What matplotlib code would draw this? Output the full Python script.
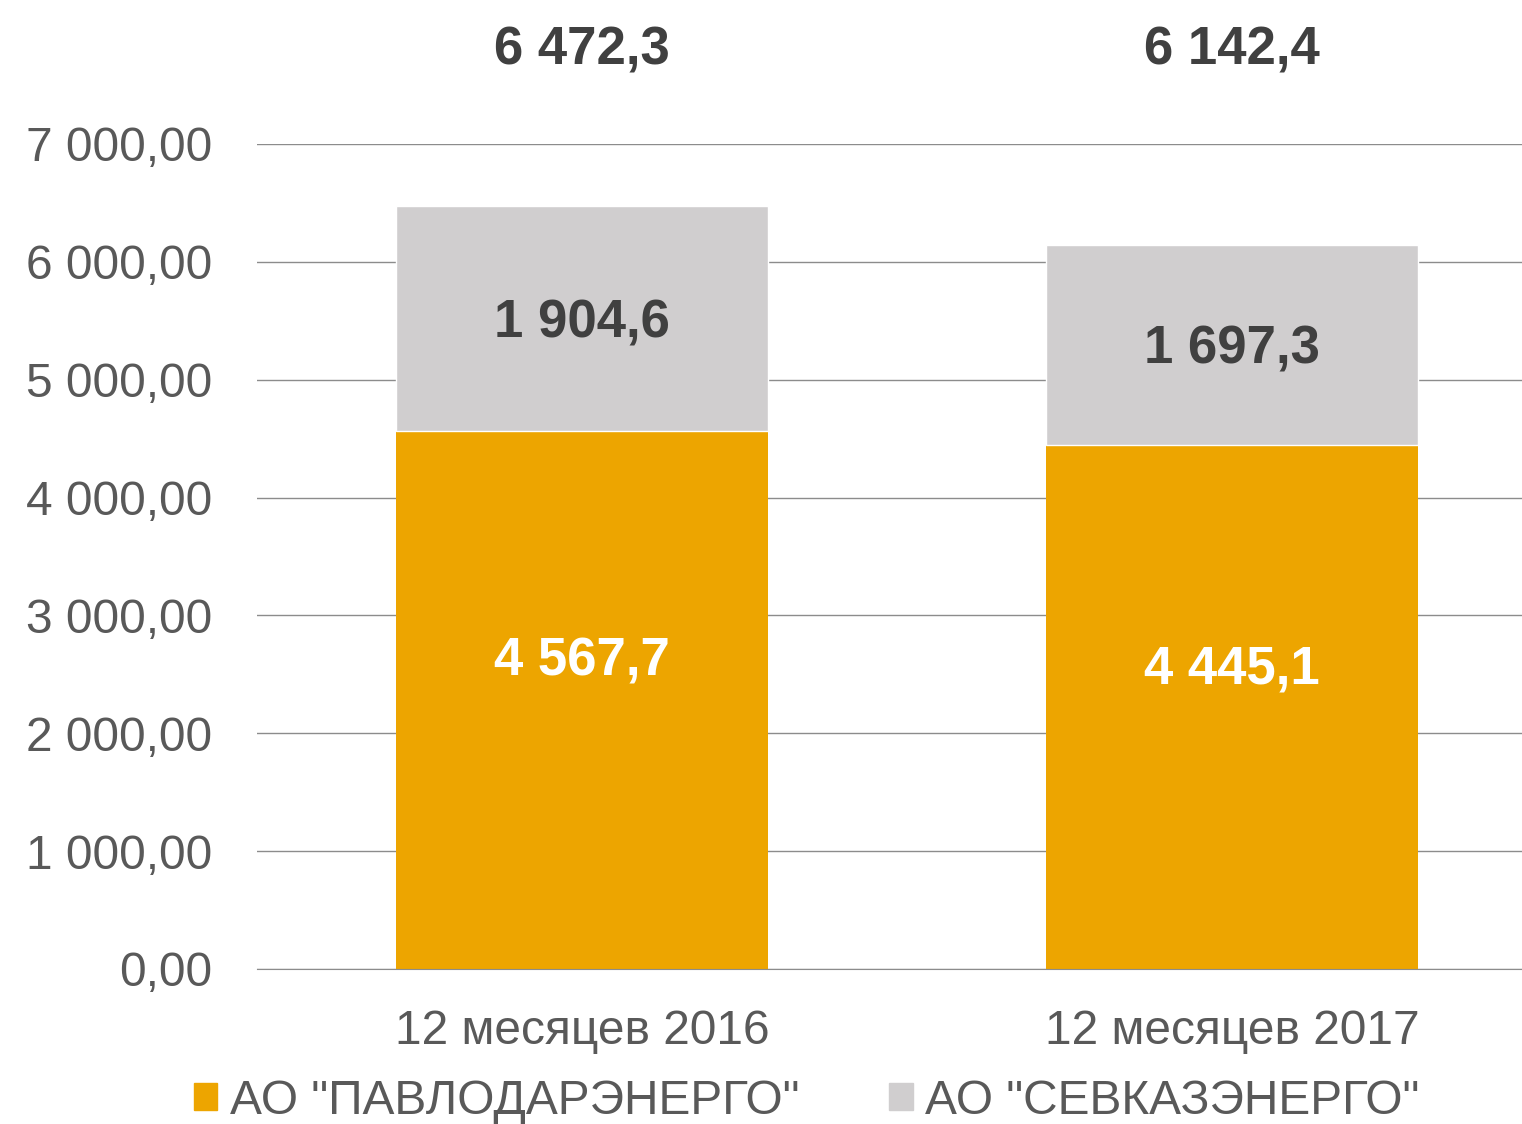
import matplotlib
matplotlib.use("Agg")
import matplotlib.pyplot as plt
from matplotlib.ticker import FuncFormatter
from matplotlib.patches import Patch

plt.rcParams['font.family'] = ['Liberation Sans', 'DejaVu Sans']

categories = ["12 месяцев 2016", "12 месяцев 2017"]
pavlodar = [4567.7, 4445.1]
sevkaz = [1904.6, 1697.3]
series_names = ['АО "ПАВЛОДАРЭНЕРГО"', 'АО "СЕВКАЗЭНЕРГО"']
yticks = [0, 1000, 2000, 3000, 4000, 5000, 6000, 7000]

orange = '#EDA500'
grey = '#D0CECF'
dark = '#404040'
tick_col = '#595959'
grid_col = '#8c8c8c'


def ru(v, dec):
    s = f"{v:,.{dec}f}"
    return s.replace(",", " ").replace(".", ",")


fig = plt.figure(figsize=(15.22, 11.24), dpi=100)
ax = fig.add_axes([257 / 1522, 1 - 969 / 1124, 1 - 257 / 1522, (969 - 144) / 1124])

x = list(range(len(categories)))
totals = [a + b for a, b in zip(pavlodar, sevkaz)]
w = 0.572
ax.bar(x, pavlodar, width=w, color=orange, zorder=3)
ax.bar(x, sevkaz, width=w, bottom=pavlodar, color=grey, edgecolor='white', linewidth=1, zorder=3)

for i in x:
    ax.text(i, pavlodar[i] * 0.58 - 40, ru(pavlodar[i], 1), ha='center', va='center',
            fontsize=38, fontweight='bold', color='white', zorder=4)
    ax.text(i, pavlodar[i] + sevkaz[i] / 2 - 40, ru(sevkaz[i], 1), ha='center', va='center',
            fontsize=38, fontweight='bold', color=dark, zorder=4)
    ax.text(i, 7790, ru(totals[i], 1), ha='center', va='center',
            fontsize=38, fontweight='bold', color=dark, clip_on=False)

ax.set_xlim(-0.5, 1.446)
ax.set_ylim(0, 7000)
ax.set_yticks(yticks)
ax.yaxis.set_major_formatter(FuncFormatter(lambda v, p: ru(v, 2)))
ax.set_xticks(x)
ax.set_xticklabels(categories)
ax.tick_params(axis='y', length=0, pad=32, labelsize=34.5, labelcolor=tick_col)
ax.tick_params(axis='x', length=0, pad=29, labelsize=34.5, labelcolor=tick_col)
ax.grid(axis='y', color=grid_col, linewidth=1, zorder=0)
for name, s in ax.spines.items():
    s.set_visible(name == 'bottom')
ax.spines['bottom'].set_color(grid_col)
ax.spines['bottom'].set_zorder(4)

handles = [Patch(color=orange), Patch(color=grey)]
fig.legend(handles, series_names, loc='lower center', bbox_to_anchor=(0.53, -0.038),
           ncol=2, frameon=False, fontsize=34.5, labelcolor=tick_col,
           handlelength=0.5, handleheight=0.5, handletextpad=0.27, columnspacing=1.85)

fig.savefig("out.png", dpi=100)
